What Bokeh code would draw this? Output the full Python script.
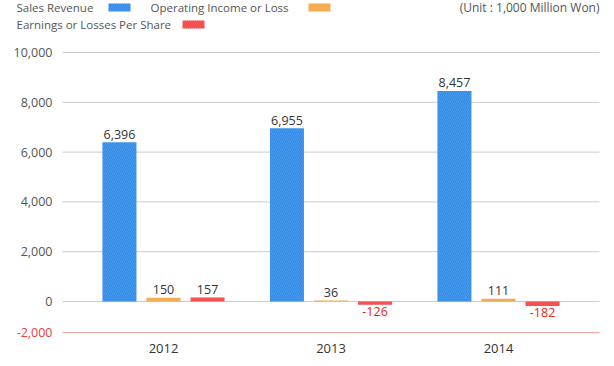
from bokeh.plotting import figure
from bokeh.models import Range1d, ColumnDataSource
from bokeh.transform import dodge
from bokeh.core.properties import value
from bokeh.embed import file_html
from bokeh.resources import INLINE

# ---- data ----
years = ["2012", "2013", "2014"]
sales_revenue = [6396, 6955, 8457]
operating_income = [150, 36, 111]
earnings_per_share = [157, -126, -182]
series_names = ["Sales Revenue", "Operating Income or Loss", "Earnings or Losses Per Share"]
y_ticks = [0, 2000, 4000, 6000, 8000, 10000]
y_bottom_label = "-2,000"
unit_note = "(Unit : 1,000 Million Won)"

# ---- layout / style ----
W, H = 614, 366
FONT = "Open Sans"
colors = ["#2f8be6", "#f5a646", "#f44545"]
offsets = [-0.263, 0.0, 0.263]
bar_w = 0.203
# plot area in page pixels and the values at its edges
FL, FR, F_TOP_PX, F_ZERO_PX, F_BOT_PX = 62, 599, 52, 301, 332
x_start, x_end = -0.603, len(years) - 1 + 0.603
y_top = max(y_ticks)
ux = (x_end - x_start) / (FR - FL)          # x units per pixel
uy = y_top / (F_ZERO_PX - F_TOP_PX)         # y units per pixel
y_floor = -(F_BOT_PX - F_ZERO_PX) * uy      # value at the bottom (-2,000) line

def px_x(px):
    return x_start + (px - FL) * ux

def px_y(py):
    return (F_ZERO_PX - py) * uy

xs = list(range(len(years)))
series = [sales_revenue, operating_income, earnings_per_share]

p = figure(width=W, height=H, x_range=Range1d(px_x(0), px_x(W)), y_range=Range1d(px_y(H), px_y(0)),
           x_axis_type=None, y_axis_type=None, output_backend="svg", toolbar_location=None,
           min_border=0)
p.outline_line_color = None
p.background_fill_color = "white"
p.border_fill_color = "white"

# grid lines and y tick labels
p.segment(x0=x_start, x1=x_end, y0=y_ticks, y1=y_ticks, line_color="#cccccc", line_width=1)
p.segment(x0=[x_start], x1=[x_end], y0=[y_floor], y1=[y_floor], line_color="#f6a3a3", line_width=1)
p.text(x=x_start, y=y_ticks, text=[f"{t:,}" for t in y_ticks], x_offset=-10, text_align="right",
       text_baseline="middle", text_font=value(FONT), text_font_size="12.5px", text_color="#555555")
p.text(x=[x_start], y=[y_floor], text=[y_bottom_label], x_offset=-10, text_align="right",
       text_baseline="middle", text_font=value(FONT), text_font_size="12.5px", text_color="#e84040")

# x category labels
p.text(x=xs, y=y_floor, text=years, y_offset=16, text_align="center", text_baseline="middle",
       text_font=value(FONT), text_font_size="13px", text_color="#333333")

# bars
src = ColumnDataSource(dict(x=xs, s0=sales_revenue, s1=operating_income, s2=earnings_per_share))
for i, (col, off) in enumerate(zip(colors, offsets)):
    p.vbar(x=dodge("x", off), top="s%d" % i, bottom=0, width=bar_w, source=src,
           fill_color=col, line_color=None,
           hatch_pattern="\\", hatch_color="white", hatch_alpha=0.13, hatch_scale=4, hatch_weight=1)

# value labels
pos = dict(x=[], y=[], t=[])
neg = dict(x=[], y=[], t=[])
for vals, off in zip(series, offsets):
    for xi, v in zip(xs, vals):
        d = pos if v >= 0 else neg
        d["x"].append(xi + off)
        d["y"].append(v)
        d["t"].append(f"{v:,}")
p.text(x="x", y="y", text="t", source=ColumnDataSource(pos), text_align="center",
       text_baseline="middle", y_offset=-8, text_font=value(FONT), text_font_size="12.5px",
       text_color="#333333")
p.text(x="x", y="y", text="t", source=ColumnDataSource(neg), text_align="center",
       text_baseline="top", y_offset=2, text_font=value(FONT), text_font_size="12.5px",
       text_color="#ee2222")

# legend (label first, then swatch) and unit note
leg_text_px = [16, 150, 16]
leg_row_px = [7, 7, 24]
leg_box_px = [108, 308, 182]
p.text(x=[px_x(v) for v in leg_text_px], y=[px_y(v) for v in leg_row_px], text=series_names,
       text_align="left", text_baseline="middle", text_font=value(FONT), text_font_size="11.5px",
       text_color="#555555")
p.quad(left=[px_x(b) for b in leg_box_px], right=[px_x(b + 22) for b in leg_box_px],
       top=[px_y(r - 4) for r in leg_row_px], bottom=[px_y(r + 4) for r in leg_row_px],
       fill_color=colors, line_color=None,
       hatch_pattern="\\", hatch_color="white", hatch_alpha=0.13, hatch_scale=4, hatch_weight=1)
p.text(x=[px_x(FR)], y=[px_y(7)], text=[unit_note], text_align="right", text_baseline="middle",
       text_font=value(FONT), text_font_size="12px", text_color="#555555")

open("out.html", "w").write(file_html(p, INLINE))
